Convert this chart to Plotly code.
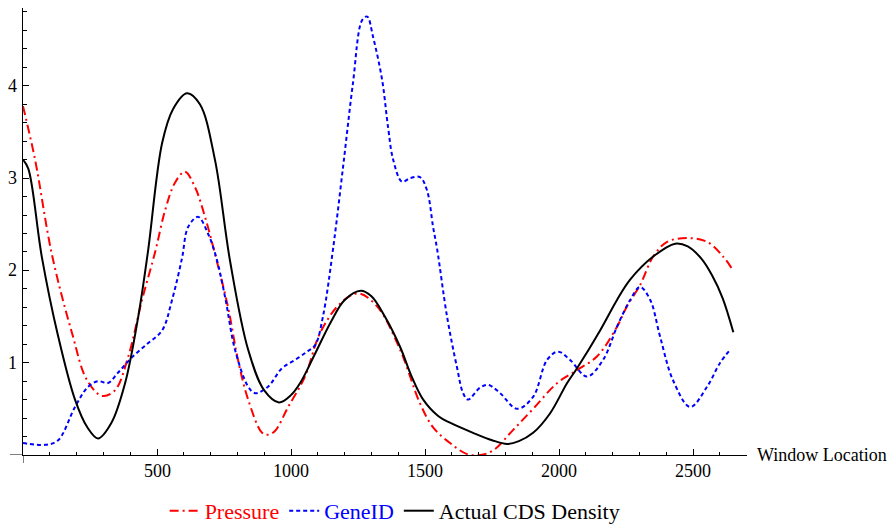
import plotly.graph_objects as go

# ---- data ----
cds_x = [0, 20, 70, 130, 194, 240, 280, 330, 381, 430, 466, 519, 560, 612, 660, 716, 772,
         840, 900, 955, 1000, 1034, 1090, 1150, 1200, 1260, 1300, 1350, 1407, 1450, 1493,
         1550, 1593, 1679, 1750, 1806, 1850, 1903, 1966, 2030, 2067, 2153, 2216, 2265,
         2351, 2433, 2480, 2530, 2570, 2610, 2650]
cds_y = [3.2, 3.1, 2.15, 1.3, 0.6, 0.3, 0.18, 0.35, 0.78, 1.5, 2.2, 3.38, 3.75, 3.92, 3.8,
         3.2, 2.11, 1.14, 0.7, 0.57, 0.65, 0.78, 1.1, 1.45, 1.68, 1.78, 1.72, 1.5, 1.17,
         0.85, 0.6, 0.42, 0.35, 0.24, 0.16, 0.12, 0.15, 0.24, 0.45, 0.78, 0.94, 1.35, 1.68,
         1.9, 2.15, 2.29, 2.26, 2.13, 1.95, 1.7, 1.33]

pres_x = [0, 45, 108, 183, 239, 295, 343, 392, 444, 493, 530, 567, 604, 642, 679, 716, 765,
          802, 840, 892, 914, 940, 989, 1052, 1108, 1183, 1250, 1321, 1407, 1481, 1530,
          1593, 1657, 1705, 1754, 1828, 1903, 1993, 2067, 2142, 2216, 2253, 2302, 2351,
          2403, 2478, 2552, 2612, 2649]
pres_y = [3.78, 3.2, 2.17, 1.32, 0.81, 0.64, 0.7, 1.06, 1.68, 2.2, 2.65, 2.95, 3.07, 2.9,
          2.58, 2.18, 1.6, 1.03, 0.6, 0.24, 0.22, 0.26, 0.52, 0.85, 1.32, 1.64, 1.75, 1.61,
          1.14, 0.56, 0.3, 0.13, 0.01, 0.0, 0.05, 0.27, 0.5, 0.78, 0.92, 1.07, 1.39, 1.61,
          1.84, 2.15, 2.31, 2.35, 2.31, 2.15, 2.0]

gene_x = [0, 82, 131, 194, 243, 280, 317, 354, 407, 466, 519, 556, 593, 616, 653, 690, 720,
          754, 791, 840, 866, 914, 966, 1015, 1060, 1090, 1119, 1157, 1194, 1231, 1265,
          1284, 1306, 1340, 1362, 1381, 1414, 1444, 1481, 1507, 1530, 1545, 1582, 1619,
          1642, 1660, 1705, 1735, 1780, 1843, 1903, 1955, 1996, 2041, 2104, 2164, 2216,
          2265, 2302, 2340, 2377, 2425, 2489, 2552, 2601, 2638]
gene_y = [0.13, 0.11, 0.16, 0.52, 0.74, 0.8, 0.78, 0.89, 1.06, 1.21, 1.35, 1.68, 2.13,
          2.47, 2.58, 2.4, 2.15, 1.71, 1.14, 0.74, 0.67, 0.74, 0.94, 1.03, 1.12, 1.19, 1.5,
          2.24, 3.12, 4.03, 4.71, 4.75, 4.53, 4.06, 3.55, 3.2, 2.96, 3.0, 3.01, 2.87, 2.47,
          2.23, 1.5, 0.95, 0.67, 0.6, 0.73, 0.76, 0.67, 0.5, 0.63, 1.03, 1.12, 1.03, 0.85,
          1.03, 1.39, 1.68, 1.82, 1.68, 1.28, 0.81, 0.52, 0.74, 1.0, 1.14]

x_ticks = [500, 1000, 1500, 2000, 2500]
y_ticks = [1, 2, 3, 4]

FONT = "Liberation Serif"
TICKFONT = dict(family=FONT, size=18, color="black")

fig = go.Figure()
fig.add_trace(go.Scatter(
    x=pres_x, y=pres_y, mode="lines", line_shape="spline",
    name="<span style='color:#ff0000'>Pressure</span>",
    line=dict(color="#ff0000", width=2, dash="9px,4px,2px,4px")))
fig.add_trace(go.Scatter(
    x=gene_x, y=gene_y, mode="lines", line_shape="spline",
    name="<span style='color:#0000ff'>GeneID</span>",
    line=dict(color="#0000ff", width=2, dash="4px,3px")))
fig.add_trace(go.Scatter(
    x=cds_x, y=cds_y, mode="lines", line_shape="spline",
    name="<span style='color:#000000'>Actual CDS Density</span>",
    line=dict(color="#000000", width=2)))

# plot area: origin at pixel (23, 455); right end 747, top 8
L, R, T, B = 23, 896 - 747, 8, 524 - 455
xr = [0, 2701]
yr = [0, 4.843]

fig.update_layout(
    width=896, height=524,
    margin=dict(l=L, r=R, t=T, b=B, autoexpand=False),
    plot_bgcolor="white", paper_bgcolor="white",
    font=dict(family=FONT, size=17, color="black"),
    showlegend=True,
    legend=dict(orientation="h", x=0.441, xanchor="center", xref="container",
                y=0.025, yanchor="middle", yref="container",
                font=dict(family=FONT, size=22), itemwidth=30,
                tracegroupgap=0, bgcolor="rgba(0,0,0,0)"),
    xaxis=dict(range=xr, showgrid=False, zeroline=False, automargin=False,
               showline=True, linecolor="black", linewidth=1, mirror=False,
               tickmode="array", tickvals=x_ticks, showticklabels=False,
               ticks="inside", ticklen=6, tickcolor="black", tickwidth=1,
               minor=dict(tickmode="linear", tick0=0, dtick=100, ticks="inside",
                          ticklen=3.5, tickcolor="black", showgrid=False)),
    yaxis=dict(range=yr, showgrid=False, zeroline=False, automargin=False,
               showline=True, linecolor="black", linewidth=1, mirror=False,
               tickmode="array", tickvals=y_ticks, showticklabels=False,
               ticks="inside", ticklen=6, tickcolor="black", tickwidth=1,
               minor=dict(tickmode="linear", tick0=0, dtick=0.2, ticks="inside",
                          ticklen=3.5, tickcolor="black", showgrid=False)),
)

# tick labels as text placed through the axes' own scales
for v in x_ticks:
    fig.add_annotation(text=str(v), xref="x", x=v, yref="y", y=0, xanchor="center",
                       yanchor="top", yshift=-4, showarrow=False, font=TICKFONT)
for v in y_ticks:
    fig.add_annotation(text=str(v), xref="x", x=0, yref="y", y=v, xanchor="right",
                       yanchor="middle", xshift=-4, showarrow=False, font=TICKFONT)

# short axis overhangs past the origin (Mathematica-style crossing axes)
fig.add_shape(type="line", xref="paper", yref="y", x0=-13 / 724, x1=0, y0=0, y1=0,
              line=dict(color="black", width=1))
fig.add_shape(type="line", xref="x", yref="paper", x0=0, x1=0, y0=-8 / 447, y1=0,
              line=dict(color="black", width=1))

fig.add_annotation(text="Window Location", xref="paper", x=1, xanchor="left", xshift=8,
                   yref="y", y=0, yanchor="middle", showarrow=False,
                   font=dict(family=FONT, size=18, color="black"))

fig.write_html("out.html")
